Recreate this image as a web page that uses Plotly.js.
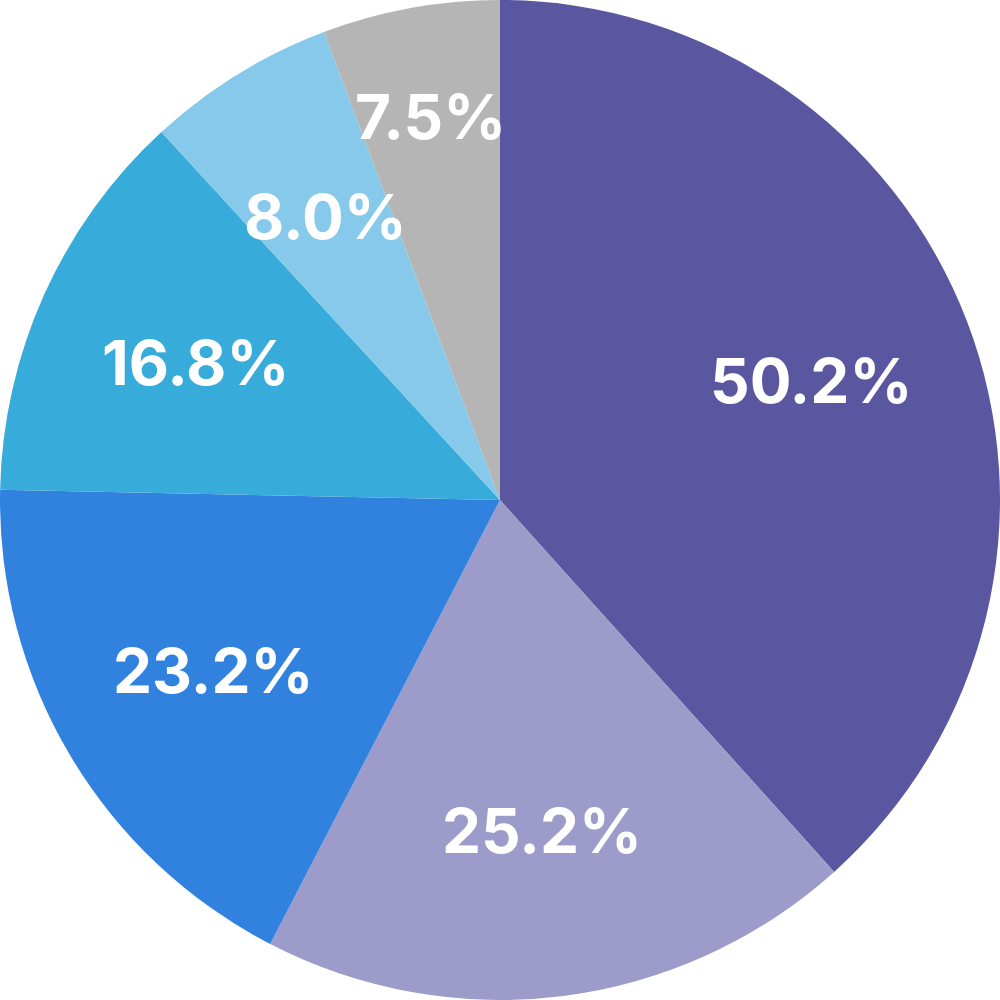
<!DOCTYPE html>
<html><head><meta charset="utf-8">
<script src="https://cdn.plot.ly/plotly-3.0.1.min.js"></script>
<style>html,body{margin:0;padding:0;background:#fff}#chart{width:1000px;height:1000px}</style>
</head><body><div id="chart"></div>
<script>
const labels = ["A", "B", "C", "D", "E", "F"];
const values = [50.2, 25.2, 23.2, 16.8, 8.0, 7.5];
const colors = ["#5A57A0", "#9D9BC9", "#3182DE", "#37ABD9", "#86C9EA", "#B5B5B5"];

// label placement (fraction of radius) — small last slice label sits further out
const labelRadius = [0.667, 0.667, 0.667, 0.667, 0.667, 0.78];

const total = values.reduce((a, b) => a + b, 0);
let cum = 0;
const annotations = values.map((v, i) => {
  const mid = (cum + v / 2) / total * 2 * Math.PI;
  cum += v;
  const r = 0.5 * labelRadius[i];
  return {
    xref: "paper", yref: "paper",
    x: 0.5 + r * Math.sin(mid),
    y: 0.5 + r * Math.cos(mid),
    xanchor: "center", yanchor: "middle",
    showarrow: false,
    text: v.toFixed(1) + "%",
    font: {family: "Inter, 'Open Sans', sans-serif", size: 62, color: "#ffffff", weight: 700}
  };
});

Plotly.newPlot("chart", [{
  type: "pie",
  labels: labels,
  values: values,
  sort: false,
  direction: "clockwise",
  rotation: 0,
  marker: {colors: colors, line: {width: 0}},
  textinfo: "none",
  hoverinfo: "none"
}], {
  width: 1000, height: 1000,
  margin: {l: 0, r: 0, t: 0, b: 0},
  showlegend: false,
  paper_bgcolor: "#ffffff",
  annotations: annotations
}, {displayModeBar: false, staticPlot: true});
</script></body></html>
